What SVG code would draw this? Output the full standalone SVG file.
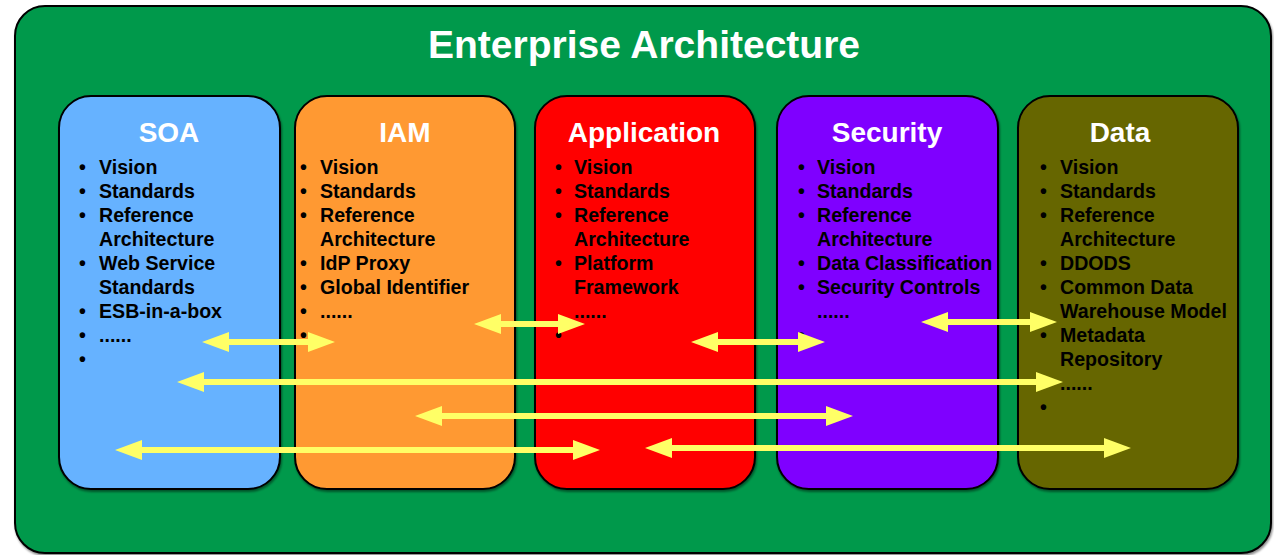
<svg xmlns="http://www.w3.org/2000/svg" width="1274" height="555" viewBox="0 0 1274 555">
  <style>
    .frame { stroke: #000; stroke-width: 2; }
    .title { font-family: "Liberation Sans", Arial, sans-serif; font-weight: bold; fill: #fff; text-anchor: middle; }
    .item { font-family: "Liberation Sans", Arial, sans-serif; font-weight: bold; font-size: 19.6px; fill: #000; }
    .link { stroke: #FFFF66; stroke-width: 6; fill: none; marker-start: url(#head); marker-end: url(#head); }
  </style>
  <defs>
    <filter id="shadow" x="-5%" y="-5%" width="110%" height="110%">
      <feDropShadow dx="1" dy="2" stdDeviation="0.8" flood-color="#000" flood-opacity="0.45"/>
    </filter>
    <marker id="head" markerUnits="userSpaceOnUse" markerWidth="28" markerHeight="22" refX="7" refY="11" orient="auto-start-reverse">
      <path d="M0,1 L27,11 L0,21 Z" fill="#FFFF66"/>
    </marker>
  </defs>

  <!-- outer container -->
  <g id="enterprise">
    <rect class="frame" x="15" y="6" width="1256" height="547" rx="30" fill="#00994C" filter="url(#shadow)"/>
    <text class="title" x="644" y="58" font-size="39">Enterprise Architecture</text>
  </g>

  <!-- SOA -->
  <g id="soa">
    <rect class="frame" x="59" y="96" width="221" height="393" rx="32" fill="#66B2FF" filter="url(#shadow)"/>
    <text class="title" x="169" y="142" font-size="28">SOA</text>
    <text class="item" x="79" y="174">•</text><text class="item" x="99" y="174">Vision</text>
    <text class="item" x="79" y="198">•</text><text class="item" x="99" y="198">Standards</text>
    <text class="item" x="79" y="222">•</text><text class="item" x="99" y="222">Reference</text>
    <text class="item" x="99" y="246">Architecture</text>
    <text class="item" x="79" y="270">•</text><text class="item" x="99" y="270">Web Service</text>
    <text class="item" x="99" y="294">Standards</text>
    <text class="item" x="79" y="318">•</text><text class="item" x="99" y="318">ESB-in-a-box</text>
    <text class="item" x="79" y="342">•</text><text class="item" x="99" y="342">......</text>
    <text class="item" x="79" y="366">•</text>
  </g>

  <!-- IAM -->
  <g id="iam">
    <rect class="frame" x="295" y="96" width="220" height="393" rx="32" fill="#FF9933" filter="url(#shadow)"/>
    <text class="title" x="405" y="142" font-size="28">IAM</text>
    <text class="item" x="300" y="174">•</text><text class="item" x="320" y="174">Vision</text>
    <text class="item" x="300" y="198">•</text><text class="item" x="320" y="198">Standards</text>
    <text class="item" x="300" y="222">•</text><text class="item" x="320" y="222">Reference</text>
    <text class="item" x="320" y="246">Architecture</text>
    <text class="item" x="300" y="270">•</text><text class="item" x="320" y="270">IdP Proxy</text>
    <text class="item" x="300" y="294">•</text><text class="item" x="320" y="294">Global Identifier</text>
    <text class="item" x="300" y="318">•</text><text class="item" x="320" y="318">......</text>
    <text class="item" x="300" y="342">•</text>
  </g>

  <!-- Application -->
  <g id="application">
    <rect class="frame" x="535" y="96" width="220" height="393" rx="32" fill="#FF0000" filter="url(#shadow)"/>
    <text class="title" x="644" y="142" font-size="28">Application</text>
    <text class="item" x="555" y="174">•</text><text class="item" x="574" y="174">Vision</text>
    <text class="item" x="555" y="198">•</text><text class="item" x="574" y="198">Standards</text>
    <text class="item" x="555" y="222">•</text><text class="item" x="574" y="222">Reference</text>
    <text class="item" x="574" y="246">Architecture</text>
    <text class="item" x="555" y="270">•</text><text class="item" x="574" y="270">Platform</text>
    <text class="item" x="574" y="294">Framework</text>
    <text class="item" x="574" y="318">......</text>
    <text class="item" x="555" y="342">•</text>
  </g>

  <!-- Security -->
  <g id="security">
    <rect class="frame" x="777" y="96" width="221" height="393" rx="32" fill="#7F00FF" filter="url(#shadow)"/>
    <text class="title" x="887" y="142" font-size="28">Security</text>
    <text class="item" x="798" y="174">•</text><text class="item" x="817" y="174">Vision</text>
    <text class="item" x="798" y="198">•</text><text class="item" x="817" y="198">Standards</text>
    <text class="item" x="798" y="222">•</text><text class="item" x="817" y="222">Reference</text>
    <text class="item" x="817" y="246">Architecture</text>
    <text class="item" x="798" y="270">•</text><text class="item" x="817" y="270">Data Classification</text>
    <text class="item" x="798" y="294">•</text><text class="item" x="817" y="294">Security Controls</text>
    <text class="item" x="817" y="318">......</text>
    <text class="item" x="798" y="342">•</text>
  </g>

  <!-- Data -->
  <g id="data">
    <rect class="frame" x="1018" y="96" width="220" height="393" rx="32" fill="#666600" filter="url(#shadow)"/>
    <text class="title" x="1120" y="142" font-size="28">Data</text>
    <text class="item" x="1040" y="174">•</text><text class="item" x="1060" y="174">Vision</text>
    <text class="item" x="1040" y="198">•</text><text class="item" x="1060" y="198">Standards</text>
    <text class="item" x="1040" y="222">•</text><text class="item" x="1060" y="222">Reference</text>
    <text class="item" x="1060" y="246">Architecture</text>
    <text class="item" x="1040" y="270">•</text><text class="item" x="1060" y="270">DDODS</text>
    <text class="item" x="1040" y="294">•</text><text class="item" x="1060" y="294">Common Data</text>
    <text class="item" x="1060" y="318">Warehouse Model</text>
    <text class="item" x="1040" y="342">•</text><text class="item" x="1060" y="342">Metadata</text>
    <text class="item" x="1060" y="366">Repository</text>
    <text class="item" x="1060" y="390">......</text>
    <text class="item" x="1040" y="414">•</text>
  </g>

  <!-- two-way links between domains (endpoints 20px inside the arrow tips) -->
  <g id="connectors">
    <line class="link" x1="222" y1="342" x2="315" y2="342"/>
    <line class="link" x1="494" y1="324" x2="565" y2="324"/>
    <line class="link" x1="711" y1="342" x2="805" y2="342"/>
    <line class="link" x1="941" y1="322" x2="1037" y2="322"/>
    <line class="link" x1="197" y1="382" x2="1043" y2="382"/>
    <line class="link" x1="435" y1="416" x2="833" y2="416"/>
    <line class="link" x1="135" y1="450" x2="580" y2="450"/>
    <line class="link" x1="665" y1="448" x2="1111" y2="448"/>
  </g>
</svg>
